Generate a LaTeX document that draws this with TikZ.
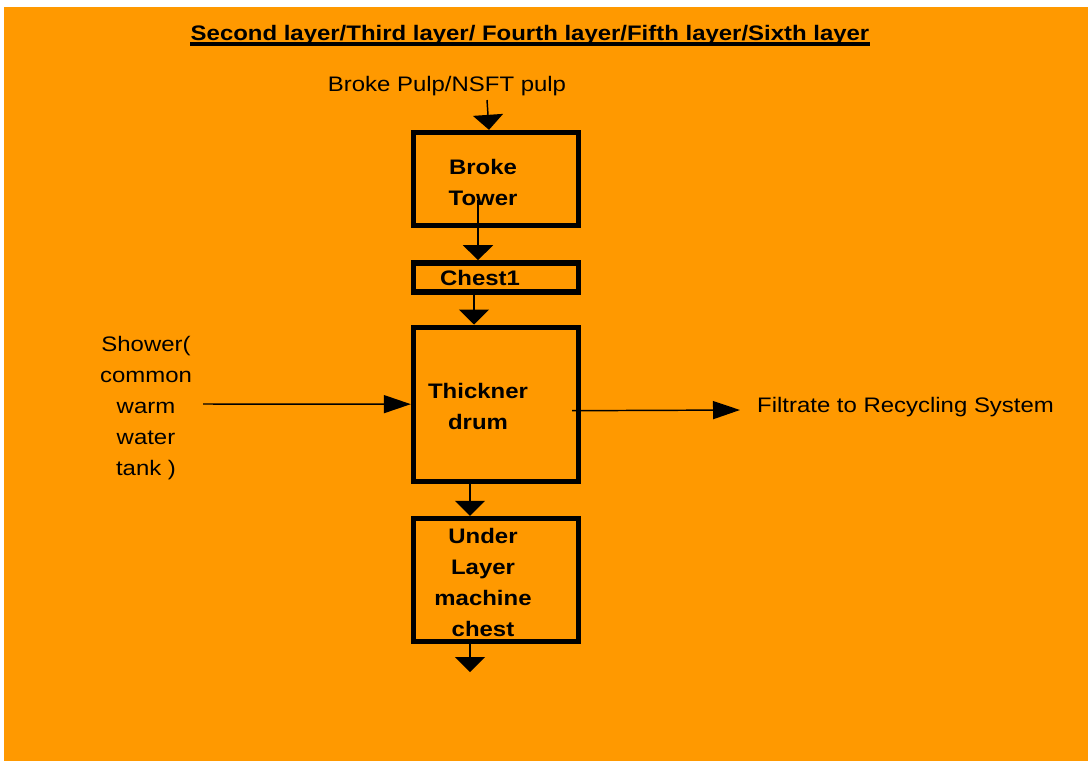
\documentclass[tikz,border=0pt]{standalone}
\usepackage{fontspec}
\setmainfont{Liberation Sans}[FakeStretch=1.14]
\usepackage{tikz}
\usetikzlibrary{arrows.meta,positioning}
\definecolor{sheet}{HTML}{FF9900}

\begin{document}
\begin{tikzpicture}[x=0.75pt,y=-0.75pt,node distance=24pt,line width=1.1pt,
  font=\fontsize{15.75pt}{23.25pt}\selectfont]
  \tikzstyle{unit}=[draw,line width=4pt,minimum width=123.75pt,inner sep=0pt]
  \tikzstyle{unittext}=[align=center,font=\fontsize{15.75pt}{23.25pt}\selectfont\bfseries]
  \tikzstyle{vflow}=[-{Triangle[width=22.5pt,length=11.25pt]}]
  \tikzstyle{hflow}=[-{Triangle[width=13.5pt,length=20.25pt]}]

  % sheet
  \fill[white] (0,0) rectangle (1088,761);
  \fill[sheet] (4,7) rectangle (1088,761);

  % heading, underlined by hand
  \node[anchor=base,inner sep=0pt,font=\fontsize{15.75pt}{23.25pt}\selectfont\bfseries] (title) at (530,40)
    {Second layer/Third layer/ Fourth layer/Fifth layer/Sixth layer};
  \draw[line width=2.4pt] ([yshift=-3pt]title.base west) -- ([yshift=-3pt]title.base east);

  % the chain of chests
  \node[unit,minimum height=69.75pt] (tower) at (496,179) {};
  \node[unit,minimum height=21.75pt,below=of tower] (chest) {};
  \node[unit,minimum height=115.5pt,below=22.5pt of chest] (drum) {};
  \node[unit,minimum height=92.25pt,below=of drum] (under) {};

  \node[unittext] (towertxt) at ([xshift=-9.75pt,yshift=-2.25pt]tower.center) {Broke\\Tower};
  \node[unittext] (chesttxt) at ([xshift=-12pt,yshift=-0.75pt]chest.center) {Chest1};
  \node[unittext] (drumtxt) at ([xshift=-13.5pt,yshift=-1.9pt]drum.center) {Thickner\\drum};
  \node[unittext] (undertxt) at ([xshift=-9.75pt,yshift=-1.5pt]under.center) {Under\\Layer\\machine\\chest};

  % feeds and outlets
  \node (feed) at (447,86) {Broke Pulp/NSFT pulp};
  \node[align=center] (shower) at (146,408) {Shower(\\common\\warm\\water\\tank )};
  \node[anchor=west] (filtrate) at (752,407) {Filtrate to Recycling System};
  \coordinate (feedout) at (487,100);
  \coordinate (showerout) at (203,404);
  \coordinate (filtrend) at (740,410);
  \coordinate (underend) at (470,672);

  \draw[vflow] (feedout) -- ([xshift=-5.25pt]tower.north);
  \draw[vflow] ([xshift=-13.5pt,yshift=-15.75pt]tower.center) -- ([xshift=-13.5pt]chest.north);
  \draw[vflow] ([xshift=-16.5pt]chest.south) -- ([xshift=-16.5pt]drum.north);
  \draw[vflow] ([xshift=-19.5pt]drum.south) -- ([xshift=-19.5pt]under.north);
  \draw[vflow] ([xshift=-19.5pt]under.south) -- (underend);
  \draw[hflow] (showerout) -- (drum.west);
  \draw[hflow] ([xshift=-6.75pt,yshift=-4.9pt]drum.east) -- (filtrend);
\end{tikzpicture}
\end{document}
